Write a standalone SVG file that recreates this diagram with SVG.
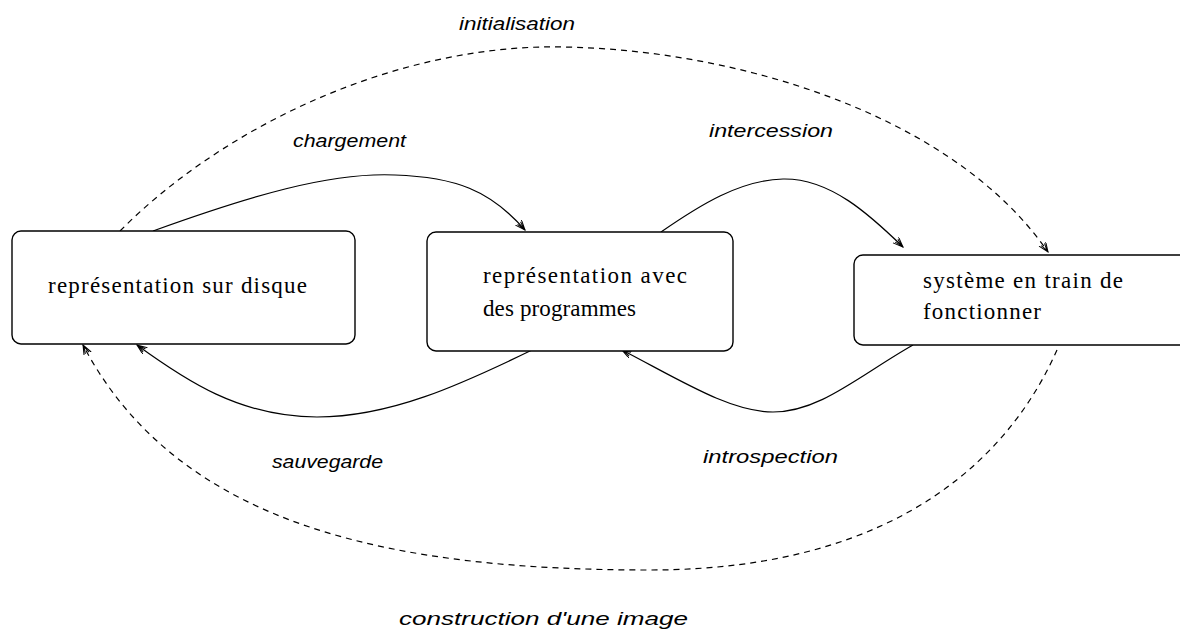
<svg xmlns="http://www.w3.org/2000/svg" width="1180" height="631" viewBox="0 0 1180 631">
<style>
.box{fill:#fff;stroke:#000;stroke-width:1.4}
.nt{font-family:"Liberation Serif","Times New Roman",serif;font-size:23px;fill:#000}
.lbl{font-family:"Liberation Sans",Arial,sans-serif;font-style:italic;font-size:19px;fill:#000}
.c{fill:none;stroke:#000;stroke-width:1.2}
.d{stroke-dasharray:6 5}
</style>
<defs>
<marker id="ah" markerWidth="12" markerHeight="10" refX="10" refY="4" orient="auto" markerUnits="userSpaceOnUse">
<path d="M0,0 L10,4 L0,8 M1,2 L8,4 L1,6" fill="none" stroke="#000" stroke-width="1" stroke-dasharray="none"/>
</marker>
</defs>
<rect width="1180" height="631" fill="#fff"/>
<g id="connectors">
<path id="chargement" class="c" d="M153,231 C250,196 330,172 395,175 C455,177 490,190 525,230" marker-end="url(#ah)"/>
<path id="initialisation" class="c d" d="M120,231 C215,135 375,52 540,47 C720,44 950,110 1048,252" marker-end="url(#ah)"/>
<path id="intercession" class="c" d="M661,232 C700,205 740,180 783,179 C830,178 870,215 903,247" marker-end="url(#ah)"/>
<path id="sauvegarde" class="c" d="M532,350 C460,385 390,417 317,417 C240,417 185,380 137,345" marker-end="url(#ah)"/>
<path id="introspection" class="c" d="M913,345 C860,375 820,412 773,412 C730,412 680,380 622,350" marker-end="url(#ah)"/>
<path id="construction" class="c d" d="M1057,350 C1015,445 910,570 650,570 C400,570 180,530 83,345" marker-end="url(#ah)"/>
</g>
<g id="labels">
<text class="lbl" x="459" y="30" textLength="116" lengthAdjust="spacingAndGlyphs">initialisation</text>
<text class="lbl" x="293" y="147" textLength="113" lengthAdjust="spacingAndGlyphs">chargement</text>
<text class="lbl" x="709" y="137" textLength="124" lengthAdjust="spacingAndGlyphs">intercession</text>
<text class="lbl" x="272" y="468" textLength="111" lengthAdjust="spacingAndGlyphs">sauvegarde</text>
<text class="lbl" x="703" y="463" textLength="135" lengthAdjust="spacingAndGlyphs">introspection</text>
<text class="lbl" x="399" y="625" textLength="289" lengthAdjust="spacingAndGlyphs">construction d'une image</text>
</g>
<g id="node-disque">
<rect class="box" x="12" y="231" width="343" height="113" rx="9"/>
<text class="nt" x="48" y="293" textLength="259">représentation sur disque</text>
</g>
<g id="node-programmes">
<rect class="box" x="427" y="232" width="306" height="119" rx="9"/>
<text class="nt" x="483" y="283" textLength="204">représentation avec</text>
<text class="nt" x="483" y="316" textLength="153">des programmes</text>
</g>
<g id="node-systeme">
<rect class="box" x="854" y="255" width="340" height="90" rx="9"/>
<text class="nt" x="923" y="288" textLength="200">système en train de</text>
<text class="nt" x="923" y="319" textLength="118">fonctionner</text>
</g>
</svg>
